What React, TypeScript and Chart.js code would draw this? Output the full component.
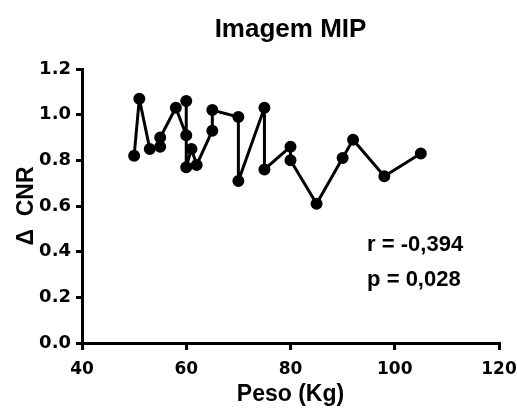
import React, { useEffect, useRef } from "react";
import { Chart, registerables } from "chart.js";

Chart.register(...registerables);

const chartTitle = "Imagem MIP";
const xAxisTitle = "Peso (Kg)";
const yAxisTitle = "\u0394  CNR";
const weights = [50, 51, 53, 55, 55, 58, 60, 60, 60, 61, 62, 65, 65, 70, 70, 75, 75, 80, 80, 85, 90, 92, 98, 105];
const cnr = [0.82, 1.07, 0.85, 0.86, 0.9, 1.03, 0.91, 1.06, 0.77, 0.85, 0.78, 0.93, 1.02, 0.99, 0.71, 1.03, 0.76, 0.86, 0.8, 0.61, 0.81, 0.89, 0.73, 0.83];
const statLines = ["r = -0,394", "p = 0,028"];
const statAnchorX = 94.7;
const statAnchorY = [0.429, 0.276];

const FONT = "'Liberation Sans', Arial, Helvetica, sans-serif";
const TICK_FONT = "'DejaVu Sans', Verdana, sans-serif";

export default function App() {
  const ref = useRef<HTMLCanvasElement | null>(null);

  useEffect(() => {
    if (!ref.current) return;
    const overlay = {
      id: "overlay",
      afterDraw(chart: any) {
        const ctx = chart.ctx;
        const area = chart.chartArea;
        const xs = chart.scales.x;
        const ys = chart.scales.y;
        ctx.save();
        ctx.fillStyle = "#000";
        ctx.font = `bold 26px ${FONT}`;
        ctx.textAlign = "center";
        ctx.textBaseline = "middle";
        ctx.fillText(chartTitle, (area.left + area.right) / 2, 29.5);
        ctx.font = `bold 22px ${FONT}`;
        ctx.textAlign = "left";
        statLines.forEach((t, i) => {
          ctx.fillText(t, xs.getPixelForValue(statAnchorX), ys.getPixelForValue(statAnchorY[i]));
        });
        ctx.restore();
      },
    };
    const chart = new Chart(ref.current, {
      type: "line",
      data: {
        datasets: [
          {
            data: weights.map((w, i) => ({ x: w, y: cnr[i] })),
            borderColor: "#000",
            backgroundColor: "#000",
            borderWidth: 3,
            borderJoinStyle: "round",
            pointRadius: 5,
            pointBorderWidth: 2,
            pointBackgroundColor: "#000",
            pointBorderColor: "#000",
            tension: 0,
            clip: false as any,
          },
        ],
      },
      options: {
        responsive: false,
        animation: false,
        layout: { padding: { top: 69, right: 18, left: 0, bottom: 0 } },
        plugins: { legend: { display: false }, tooltip: { enabled: false }, title: { display: false } },
        scales: {
          x: {
            type: "linear",
            min: 40,
            max: 120,
            afterFit: (s: any) => {
              s.height = 65;
              s.paddingLeft = 0;
              s.paddingRight = 0;
            },
            ticks: {
              stepSize: 20,
              color: "#000",
              font: { family: TICK_FONT, size: 17, weight: "bold" },
              padding: 9,
              maxRotation: 0,
            },
            grid: { drawOnChartArea: false, drawTicks: true, tickLength: 7, color: "#000", lineWidth: 3 },
            border: { color: "#000", width: 3 },
            title: {
              display: true,
              text: xAxisTitle,
              color: "#000",
              font: { family: FONT, size: 23, weight: "bold" },
              padding: { top: 0, bottom: 0 },
            },
          },
          y: {
            min: 0,
            max: 1.2,
            afterFit: (s: any) => {
              s.width = 82;
              s.paddingTop = 0;
              s.paddingBottom = 0;
            },
            ticks: {
              stepSize: 0.2,
              color: "#000",
              font: { family: TICK_FONT, size: 18, weight: "bold" },
              padding: 5,
              callback: (v: any) => Number(v).toFixed(1),
            },
            grid: { drawOnChartArea: false, drawTicks: true, tickLength: 6, color: "#000", lineWidth: 3 },
            border: { color: "#000", width: 3 },
            title: {
              display: true,
              text: yAxisTitle,
              color: "#000",
              font: { family: FONT, size: 23, weight: "bold" },
              padding: { top: 13, bottom: 0 },
            },
          },
        },
      },
      plugins: [overlay],
    });
    return () => chart.destroy();
  }, []);

  return (
    <div style={{ position: "absolute", left: 0, top: 0, width: 517, height: 408, background: "#fff" }}>
      <canvas ref={ref} width={517} height={408} />
    </div>
  );
}
